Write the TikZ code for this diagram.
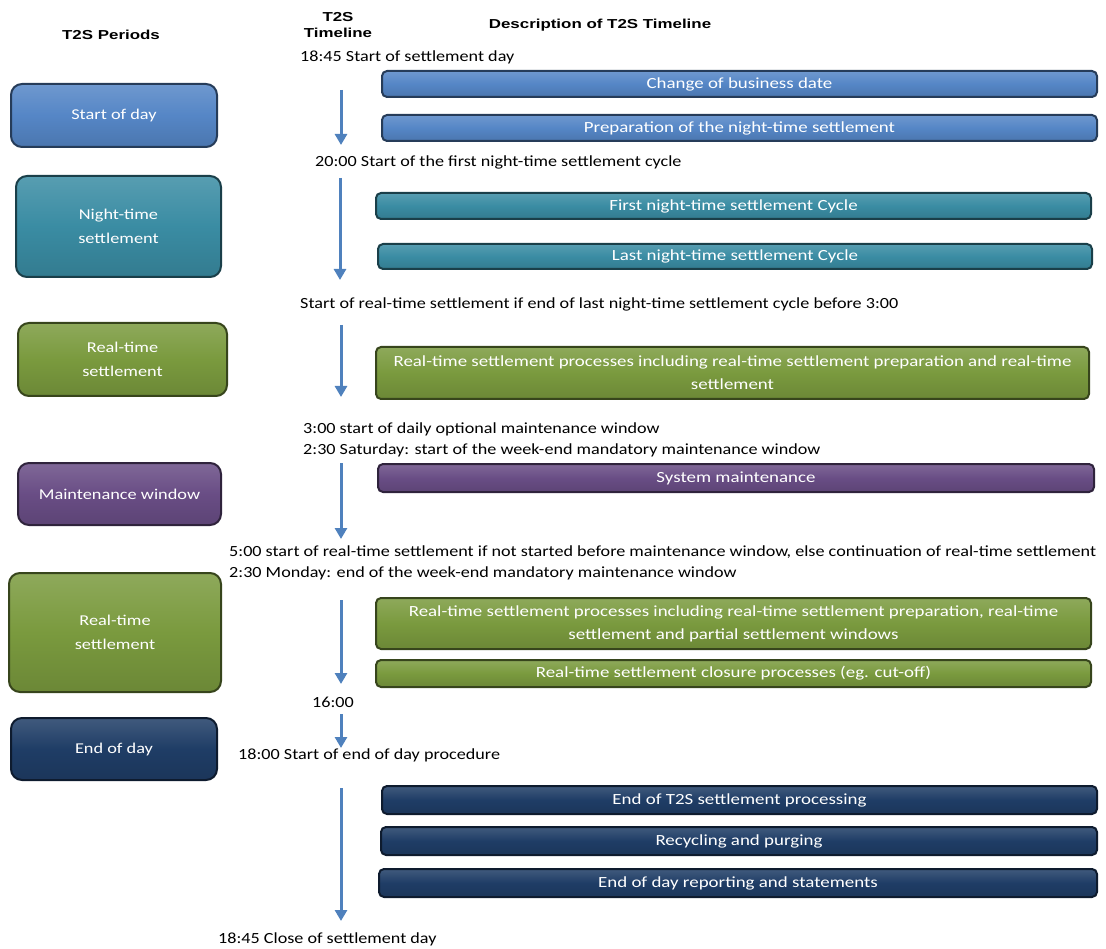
\documentclass[tikz,border=0pt]{standalone}
\usepackage{fontspec}
\setmainfont{Carlito}
\newfontfamily\cf[FakeStretch=1.17]{Carlito}
\newfontfamily\boxfont[FakeStretch=1.22]{Carlito}
\newfontfamily\hf[FakeStretch=1.3]{Liberation Sans}
\usetikzlibrary{arrows.meta}
\definecolor{cblue}{HTML}{5586C6}
\definecolor{cteal}{HTML}{3A8CA3}
\definecolor{cgreen}{HTML}{7A9A3E}
\definecolor{cpurple}{HTML}{694D85}
\definecolor{cnavy}{HTML}{1F3D66}
\definecolor{carrow}{HTML}{4F81BD}
\tikzset{
  boxbase/.style={draw=#1!45!black, line width=2pt, top color=#1!85!white, bottom color=#1!88!black, middle color=#1, text=white, align=center, inner sep=0pt},
  period/.style={boxbase=#1, rounded corners=11pt, font=\boxfont\fontsize{15}{24}\selectfont},
  bar/.style={boxbase=#1, rounded corners=5pt, font=\boxfont\fontsize{15.5}{23}\selectfont},
  lbl/.style={anchor=west, inner sep=0pt, font=\cf\fontsize{15.5}{21}\selectfont},
  hdr/.style={inner sep=0pt, font=\hf\bfseries\fontsize{13}{16}\selectfont, align=center},
  tl/.style={draw=carrow, line width=3pt, -{Triangle[length=11pt,width=12pt]}}
}
\begin{document}
\begin{tikzpicture}[x=1pt,y=-1pt]
\useasboundingbox (0,0) rectangle (1106,949);
% headers
\node[hdr] (h1) at (111,35) {T2S Periods};
\node[hdr] (h2) at (338,25) {T2S\\Timeline};
\node[hdr] (h3) at (600,25) {Description of T2S Timeline};
% periods
\node[period=cblue, minimum width=206pt, minimum height=63pt] (p1) at (114,115.5) {Start of day};
\node[period=cteal, minimum width=205pt, minimum height=101pt] (p2) at (118.5,226.5) {Night-time\\settlement};
\node[period=cgreen, minimum width=209pt, minimum height=73pt] (p3) at (122.5,359.5) {Real-time\\settlement};
\node[period=cpurple, minimum width=203pt, minimum height=62pt] (p4) at (119.5,494) {Maintenance window};
\node[period=cgreen, minimum width=212pt, minimum height=119pt] (p5) at (115,632.5) {Real-time\\settlement};
\node[period=cnavy, minimum width=206pt, minimum height=62pt] (p6) at (114,749) {End of day};
% description bars
\node[bar=cblue, minimum width=715pt, minimum height=26pt] (b1) at (739.5,84) {Change of business date};
\node[bar=cblue, minimum width=715pt, minimum height=26pt] (b2) at (739.5,128) {Preparation of the night-time settlement};
\node[bar=cteal, minimum width=715pt, minimum height=26pt] (b3) at (733.5,206) {First night-time settlement Cycle};
\node[bar=cteal, minimum width=714pt, minimum height=25pt] (b4) at (735,256.5) {Last night-time settlement Cycle};
\node[bar=cgreen, minimum width=713pt, minimum height=52pt] (b5) at (732.5,373) {Real-time settlement processes including real-time settlement preparation and real-time\\settlement};
\node[bar=cpurple, minimum width=716pt, minimum height=28pt] (b6) at (736,478) {System maintenance};
\node[bar=cgreen, minimum width=715pt, minimum height=51pt] (b7) at (733.5,623.5) {Real-time settlement processes including real-time settlement preparation, real-time\\settlement and partial settlement windows};
\node[bar=cgreen, minimum width=715pt, minimum height=27pt] (b8) at (733.5,673.5) {Real-time settlement closure processes (eg. cut-off)};
\node[bar=cnavy, minimum width=715pt, minimum height=28pt] (b9) at (739.5,800) {End of T2S settlement processing};
\node[bar=cnavy, minimum width=716pt, minimum height=28pt] (b10) at (739,841) {Recycling and purging};
\node[bar=cnavy, minimum width=718pt, minimum height=28pt] (b11) at (738,883) {End of day reporting and statements};
% timeline labels
\node[lbl] (t1) at (300,57) {18:45 Start of settlement day};
\node[lbl] (t2) at (315,162) {20:00 Start of the first night-time settlement cycle};
\node[lbl] (t3) at (300,304) {Start of real-time settlement if end of last night-time settlement cycle before 3:00};
\node[lbl] (t4) at (303,429) {3:00 start of daily optional maintenance window};
\node[lbl] (t5) at (303,450) {2:30 Saturday: start of the week-end mandatory maintenance window};
\node[lbl] (t6) at (229,552) {5:00 start of real-time settlement if not started before maintenance window, else continuation of real-time settlement};
\node[lbl] (t7) at (229,573) {2:30 Monday: end of the week-end mandatory maintenance window};
\node[lbl, anchor=center] (t8) at (333,702) {16:00};
\node[lbl] (t9) at (238,755) {18:00 Start of end of day procedure};
\node[lbl] (t10) at (218,939) {18:45 Close of settlement day};
% arrow ends
\coordinate (a1s) at (341,90);  \coordinate (a1e) at (341,145);
\coordinate (a2s) at (340,178); \coordinate (a2e) at (340,280);
\coordinate (a3s) at (341,325); \coordinate (a3e) at (341,397);
\coordinate (a4s) at (341,463); \coordinate (a4e) at (341,539);
\coordinate (a5s) at (341,600); \coordinate (a5e) at (341,684);
\coordinate (a6s) at (341,714); \coordinate (a6e) at (341,748);
\coordinate (a7s) at (341,788); \coordinate (a7e) at (341,921);
\draw[tl] (a1s) -- (a1e);
\draw[tl] (a2s) -- (a2e);
\draw[tl] (a3s) -- (a3e);
\draw[tl] (a4s) -- (a4e);
\draw[tl] (a5s) -- (a5e);
\draw[tl] (a6s) -- (a6e);
\draw[tl] (a7s) -- (a7e);
\end{tikzpicture}
\end{document}
